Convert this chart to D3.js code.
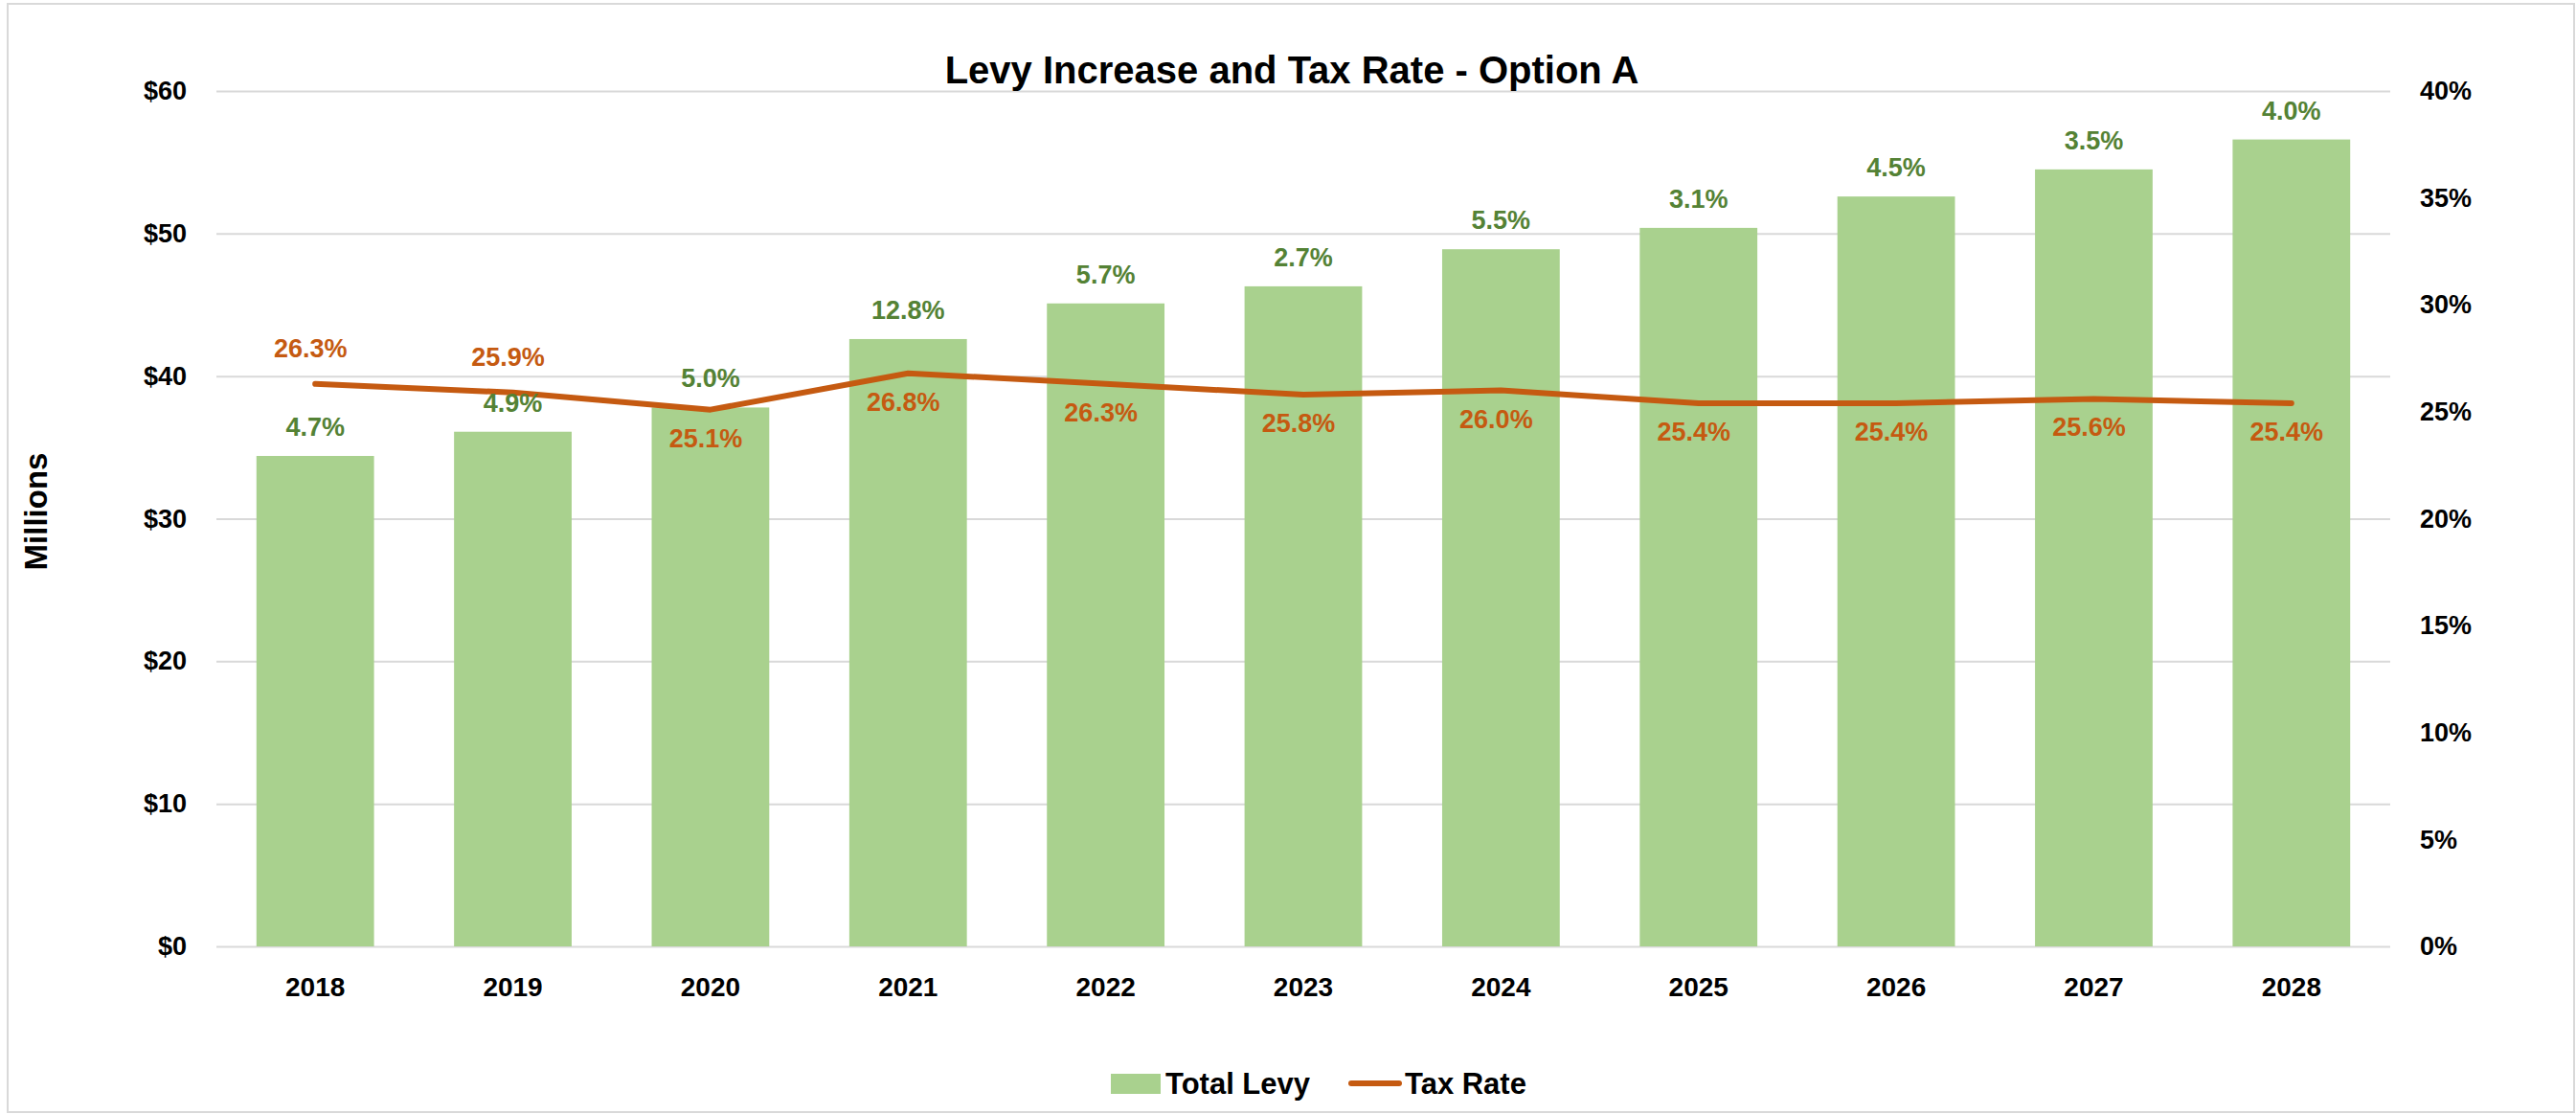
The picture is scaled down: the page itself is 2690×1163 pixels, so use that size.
<!DOCTYPE html>
<html>
<head>
<meta charset="utf-8">
<script src="https://cdn.jsdelivr.net/npm/d3@7"></script>
<style>
  body { margin: 0; background: #fff; }
  svg { display: block; font-family: "Liberation Sans", Arial, sans-serif; font-weight: bold; }
</style>
</head>
<body>
<div id="chart"></div>
<script>
// data
var years = ["2018", "2019", "2020", "2021", "2022", "2023", "2024", "2025", "2026", "2027", "2028"];
var totalLevy = [34.4, 36.1, 37.8, 42.6, 45.1, 46.3, 48.9, 50.4, 52.6, 54.5, 56.6];   // $ millions
var levyIncrease = [4.7, 4.9, 5.0, 12.8, 5.7, 2.7, 5.5, 3.1, 4.5, 3.5, 4.0];           // % labels over bars
var taxRate = [26.3, 25.9, 25.1, 26.8, 26.3, 25.8, 26.0, 25.4, 25.4, 25.6, 25.4];      // %
var rateLabelAbove = [true, true, false, false, false, false, false, false, false, false, false];
var levyTicks = [0, 10, 20, 30, 40, 50, 60];
var rateTicks = [0, 5, 10, 15, 20, 25, 30, 35, 40];

var W = 2690, H = 1163;
var GREEN = "#A9D18E", GREEN_TXT = "#548235", ORANGE = "#C55A11", GRID = "#D9D9D9";
// note: "top" is reserved on window, so plot bounds get their own names
var plotLeft = 226, plotRight = 2496, plotTop = 95, plotBottom = 988;

var svg = d3.select("#chart").append("svg")
    .attr("width", W)
    .attr("height", H);

// chart frame
svg.append("rect")
    .attr("x", 8).attr("y", 4)
    .attr("width", 2680).attr("height", 1157)
    .attr("fill", "#fff")
    .attr("stroke", GRID)
    .attr("stroke-width", 2);

var x = d3.scaleBand()
    .domain(years)
    .range([plotLeft, plotRight])
    .paddingInner(0.405)
    .paddingOuter(0.2025);

var yL = d3.scaleLinear().domain([0, 60]).range([plotBottom, plotTop]);
var yR = d3.scaleLinear().domain([0, 40]).range([plotBottom, plotTop]);

function cx(i) { return x(years[i]) + x.bandwidth() / 2; }

// gridlines
svg.append("g")
    .attr("transform", "translate(" + plotLeft + ",0)")
    .call(d3.axisLeft(yL).tickValues(levyTicks).tickSize(-(plotRight - plotLeft)).tickFormat(""))
    .call(function(g) {
      g.select(".domain").remove();
      g.selectAll("line").attr("stroke", GRID).attr("stroke-width", 2);
    });

// left axis labels
svg.append("g")
    .attr("transform", "translate(" + (plotLeft - 31) + ",0)")
    .call(d3.axisLeft(yL).tickValues(levyTicks).tickSize(0).tickFormat(function(d) { return "$" + d; }))
    .call(function(g) {
      g.select(".domain").remove();
      g.selectAll("text").attr("font-size", 27).attr("font-family", null).attr("fill", "#000").attr("x", 0);
    });

// right axis labels
svg.append("g")
    .attr("transform", "translate(" + (plotRight + 31) + ",0)")
    .call(d3.axisRight(yR).tickValues(rateTicks).tickSize(0).tickFormat(function(d) { return d + "%"; }))
    .call(function(g) {
      g.select(".domain").remove();
      g.selectAll("text").attr("font-size", 27).attr("font-family", null).attr("fill", "#000").attr("x", 0);
    });

// bars
svg.append("g").selectAll("rect")
    .data(totalLevy)
    .enter().append("rect")
    .attr("x", function(d, i) { return x(years[i]); })
    .attr("y", function(d) { return yL(d); })
    .attr("width", x.bandwidth())
    .attr("height", function(d) { return yL(0) - yL(d); })
    .attr("fill", GREEN);

// x axis labels
svg.append("g")
    .attr("transform", "translate(0," + plotBottom + ")")
    .call(d3.axisBottom(x).tickSize(0))
    .call(function(g) {
      g.select(".domain").remove();
      g.selectAll("text").attr("font-size", 28).attr("font-family", null).attr("fill", "#000")
        .attr("y", 52).attr("dy", null);
    });

// tax rate line
var line = d3.line()
    .x(function(d, i) { return cx(i); })
    .y(function(d) { return yR(d); });

svg.append("path")
    .datum(taxRate)
    .attr("d", line)
    .attr("fill", "none")
    .attr("stroke", ORANGE)
    .attr("stroke-width", 6)
    .attr("stroke-linecap", "round")
    .attr("stroke-linejoin", "round");

// levy increase labels
svg.append("g").selectAll("text")
    .data(levyIncrease)
    .enter().append("text")
    .attr("x", function(d, i) { return cx(i); })
    .attr("y", function(d, i) { return yL(totalLevy[i]) - 21; })
    .attr("text-anchor", "middle")
    .attr("font-size", 27)
    .attr("fill", GREEN_TXT)
    .text(function(d) { return d.toFixed(1) + "%"; });

// tax rate labels
svg.append("g").selectAll("text")
    .data(taxRate)
    .enter().append("text")
    .attr("x", function(d, i) { return cx(i) - 5; })
    .attr("y", function(d, i) { return rateLabelAbove[i] ? yR(d) - 28 : yR(d) + 39; })
    .attr("text-anchor", "middle")
    .attr("font-size", 27)
    .attr("fill", ORANGE)
    .text(function(d) { return d.toFixed(1) + "%"; });

// title
svg.append("text")
    .attr("x", 1349)
    .attr("y", 87)
    .attr("text-anchor", "middle")
    .attr("font-size", 40)
    .text("Levy Increase and Tax Rate - Option A");

// y axis title
svg.append("text")
    .attr("transform", "translate(49,534) rotate(-90)")
    .attr("text-anchor", "middle")
    .attr("font-size", 33)
    .text("Millions");

// legend
var lg = svg.append("g");
lg.append("rect")
    .attr("x", 1160).attr("y", 1121)
    .attr("width", 52).attr("height", 21)
    .attr("fill", GREEN);
lg.append("text")
    .attr("x", 1217).attr("y", 1142)
    .attr("font-size", 31)
    .text("Total Levy");
lg.append("line")
    .attr("x1", 1411).attr("x2", 1461)
    .attr("y1", 1131).attr("y2", 1131)
    .attr("stroke", ORANGE)
    .attr("stroke-width", 6)
    .attr("stroke-linecap", "round");
lg.append("text")
    .attr("x", 1467).attr("y", 1142)
    .attr("font-size", 31)
    .text("Tax Rate");
</script>
</body>
</html>
